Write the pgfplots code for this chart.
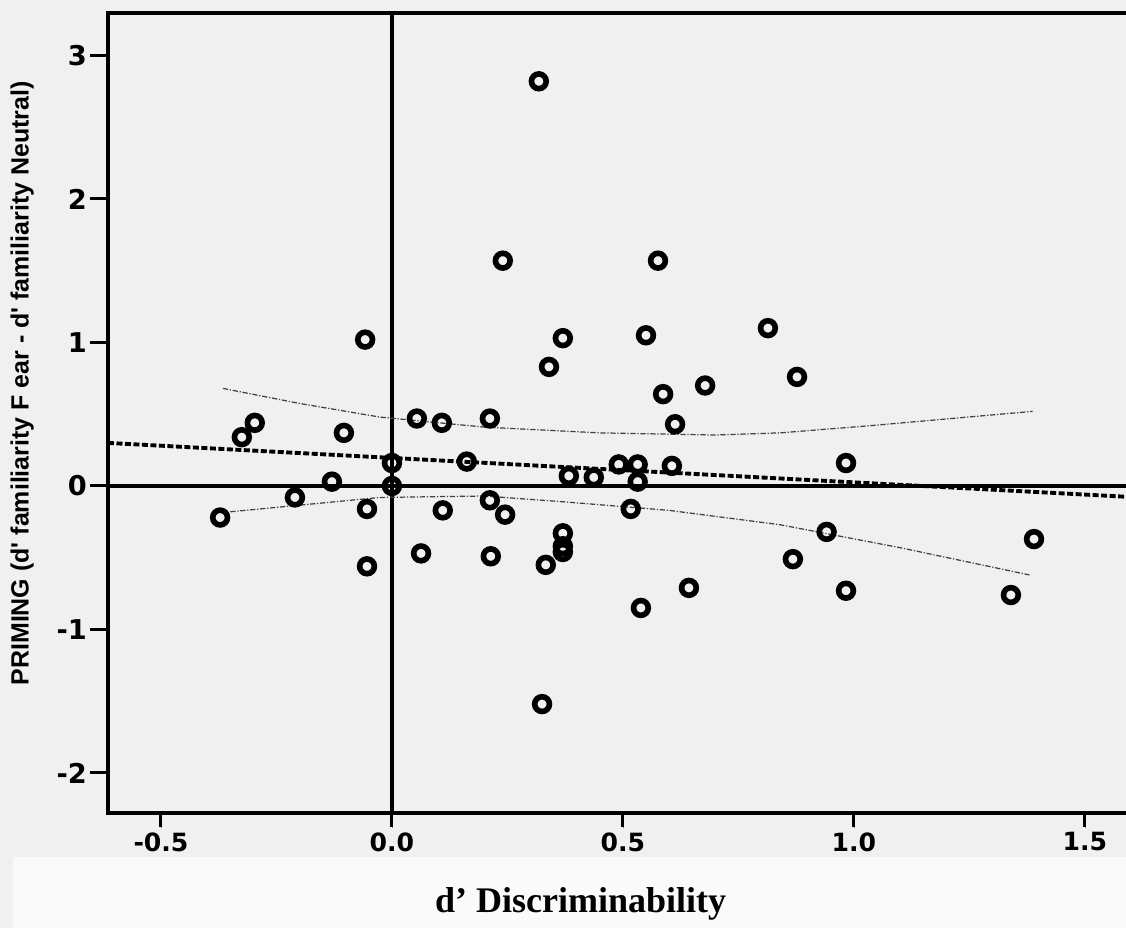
\documentclass[border=0pt]{standalone}
\usepackage{fontspec}
\setmainfont{Liberation Serif}
\newfontfamily\arial{Liberation Sans}
\newfontfamily\verd{DejaVu Sans}
\usepackage{pgfplots}
\usepackage{pgfplotstable}
\pgfplotsset{compat=1.18}

% participants: d' discriminability vs. priming score
\pgfplotstableread{
x y
-0.372 -0.22
-0.325 0.34
-0.297 0.44
-0.210 -0.08
-0.130 0.03
-0.104 0.37
-0.058 1.02
-0.054 -0.16
-0.054 -0.56
0.000 0.16
0.000 0.00
0.054 0.47
0.063 -0.47
0.108 0.44
0.110 -0.17
0.162 0.17
0.212 0.47
0.212 -0.10
0.214 -0.49
0.240 1.57
0.245 -0.20
0.318 2.82
0.325 -1.52
0.333 -0.55
0.340 0.83
0.370 1.03
0.370 -0.33
0.370 -0.42
0.370 -0.46
0.383 0.07
0.437 0.06
0.491 0.15
0.517 -0.16
0.532 0.15
0.532 0.03
0.539 -0.85
0.550 1.05
0.576 1.57
0.587 0.64
0.606 0.14
0.613 0.43
0.643 -0.71
0.678 0.70
0.814 1.10
0.877 0.76
0.868 -0.51
0.941 -0.32
0.983 0.16
0.983 -0.73
1.340 -0.76
1.390 -0.37
}\scatterdata

\begin{document}
\begin{tikzpicture}
\useasboundingbox (-2.16,-2.3) rectangle (20.36,16.26);
\fill[black!6] (-2.16,-2.3) rectangle (20.36,16.26);
\fill[black!2] (-1.9,-2.3) rectangle (20.36,-0.88);

\begin{axis}[
  scale only axis,
  width=20.46cm, height=16cm,
  xmin=-0.6147, xmax=1.6,
  ymin=-2.279, ymax=3.296,
  axis line style={line width=2pt},
  xtick={-0.5,0,0.5,1,1.5},
  xticklabels={-0.5,0.0,0.5,1.0,1.5},
  ytick={-2,-1,0,1,2,3},
  yticklabels={-2,-1,0,1,2,3},
  xtick pos=left, ytick pos=left,
  tick align=outside,
  major tick length=0.3cm,
  x tick label style={font=\verd\bfseries\fontsize{14.3}{15}\selectfont, yshift=1pt},
  y tick label style={font=\verd\bfseries\fontsize{15.5}{16}\selectfont},
  xlabel={d’ Discriminability},
  xlabel style={font=\bfseries\fontsize{20.5}{21}\selectfont,
    at={(axis description cs:0.462,-0.114)}, anchor=center},
  ylabel={PRIMING (d\textquotesingle{} familiarity F ear - d\textquotesingle{} familiarity Neutral)},
  ylabel style={font=\arial\bfseries\fontsize{14.2}{15}\selectfont,
    at={(axis description cs:-0.084,0.537)}, anchor=center},
]
  % reference lines at zero
  \draw[line width=2pt] (axis cs:0,-2.279) -- (axis cs:0,3.296);
  \draw[line width=2pt] (axis cs:-0.6147,0) -- (axis cs:1.6,0);
  % band around the fit
  \addplot[black!75, line width=0.7pt, densely dashdotted] coordinates {
    (-0.366,0.68) (-0.2,0.575) (-0.026,0.48) (0.2,0.41) (0.45,0.37)
    (0.7,0.355) (0.84,0.37) (1.035,0.42) (1.387,0.52)
  };
  \addplot[black!75, line width=0.7pt, densely dashdotted] coordinates {
    (-0.35,-0.18) (-0.026,-0.08) (0.2,-0.07) (0.37,-0.11) (0.6,-0.17)
    (0.84,-0.27) (1.1,-0.43) (1.38,-0.62)
  };
  % fit line
  \addplot[black, line width=2.2pt, dash pattern=on 0.12cm off 0.05cm] coordinates {
    (-0.6147,0.30) (1.6,-0.077)
  };
  \addplot[only marks, mark=o, line width=3.2pt, mark size=4.2pt,
    mark options={line width=3.2pt, black}] table {\scatterdata};
\end{axis}

% tick marks as small filled bars at the tick positions of the axis box
\foreach \ty in {0.8007,3.6707,6.5406,9.4105,12.2805,15.1504}
  \fill[black] (-0.36,\ty-0.03) rectangle (0.02,\ty+0.03);
\foreach \tx in {1.0596,5.6788,10.2979,14.9170,19.5361}
  \fill[black] (\tx-0.03,-0.28) rectangle (\tx+0.03,0.02);
\end{tikzpicture}
\end{document}
